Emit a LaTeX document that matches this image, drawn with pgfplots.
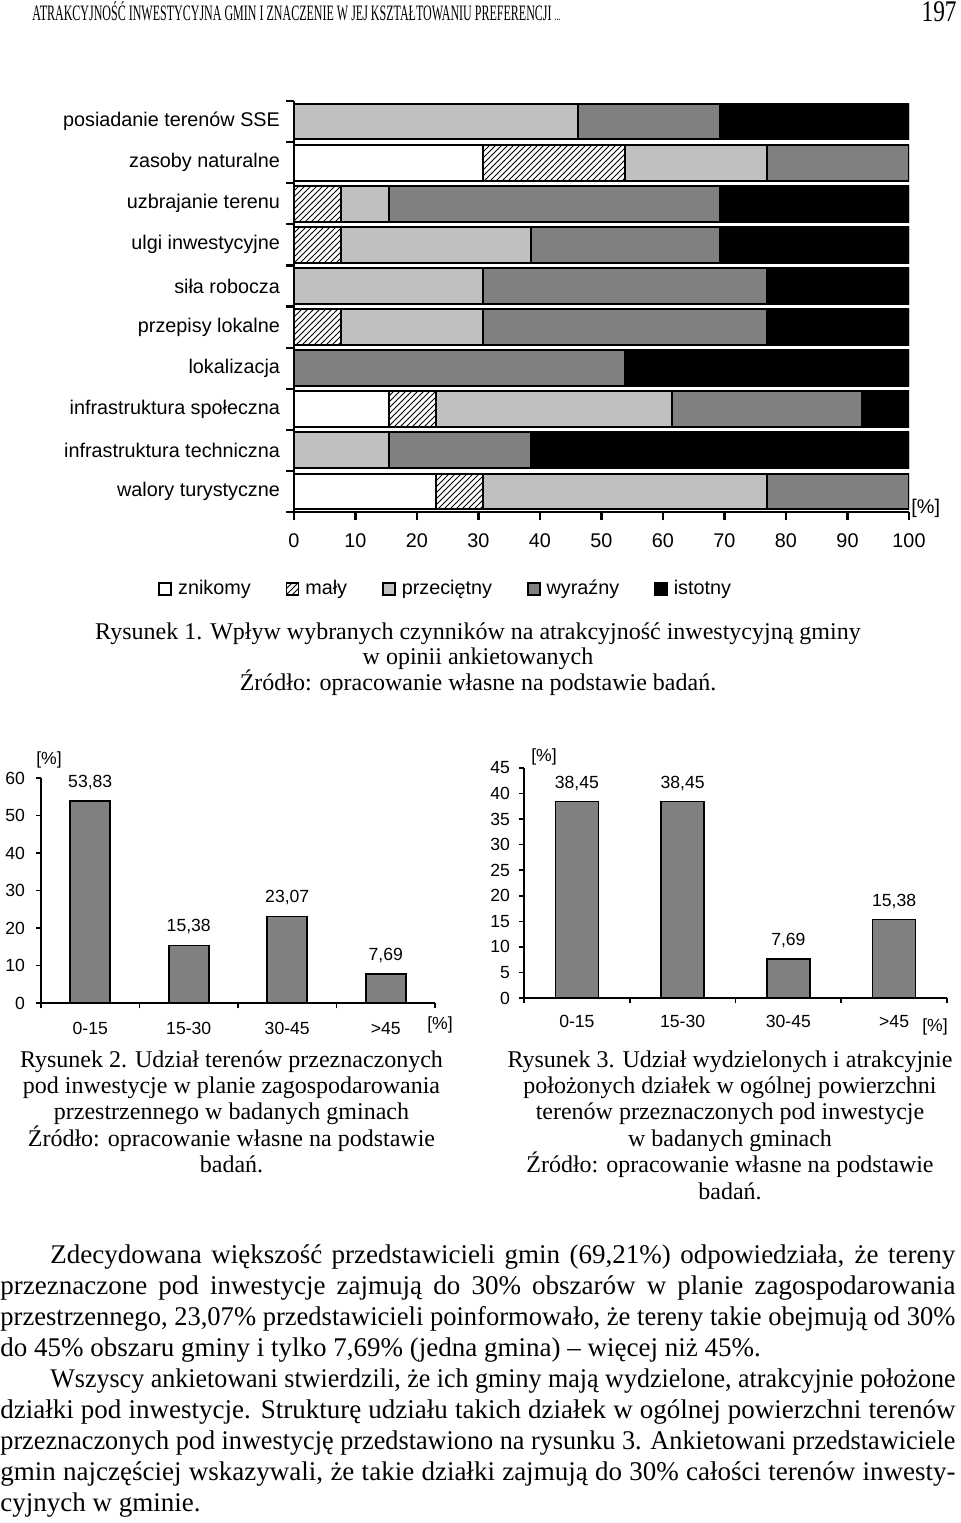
\documentclass[border=0pt]{standalone}
\usepackage{fontspec}
\setmainfont{Liberation Serif}
\newfontfamily\arial{Liberation Sans}
\usepackage{graphicx}
\usepackage{pgfplots}
\pgfplotsset{compat=1.18}
\usetikzlibrary{patterns}
\definecolor{lg}{HTML}{C0C0C0}
\definecolor{dg}{HTML}{808080}
\newsavebox\jbox
\newcommand\justline[2]{\sbox\jbox{#2}\ifdim\wd\jbox>#1\relax\resizebox{#1}{\height}{\usebox\jbox}\else\makebox[#1][s]{#2}\fi}
\newcommand\bodyfont{\fontsize{13.5}{15.5}\selectfont}
\newcommand\capfont{\fontsize{12}{13}\selectfont}
\newcommand\chfont{\arial\fontsize{9.9}{11}\selectfont}
\newcommand\smfont{\arial\fontsize{8.8}{10}\selectfont}
\begin{document}
\begin{tikzpicture}
\path[use as bounding box] (0pt,0pt) rectangle (480pt,-761.5pt);
% header
\node[anchor=base west, inner sep=0pt] at (16pt,-10.2pt) {\resizebox{264pt}{\height}{\fontsize{11}{13}\selectfont ATRAKCYJNOŚĆ INWESTYCYJNA GMIN I ZNACZENIE W JEJ KSZTAŁTOWANIU PREFERENCJI {\fontsize{7}{8}\selectfont ...}}};
\node[anchor=base east, inner sep=0pt] at (478.5pt,-10.5pt) {\resizebox{17.5pt}{\height}{\fontsize{15}{17}\selectfont 197}};

% ---------- Figure 1 ----------
\begin{axis}[
 at={(147pt,-256pt)}, anchor=south west, scale only axis,
 width=307.5pt, height=205.5pt,
 xbar stacked, bar width=17.9pt,
 xmin=0, xmax=100, ymin=0.5, ymax=10.5, y dir=reverse,
 axis x line*=bottom, axis y line*=left,
 axis line style={line width=1.1pt},
 tick style={black, line width=1.1pt},
 tick align=outside, major tick length=4pt,
 xtick={0,10,...,100},
 ytick={0.5,1.5,...,10.5}, yticklabels={},
 extra y ticks={1,2,...,10},
 extra y tick labels={posiadanie terenów SSE, zasoby naturalne, uzbrajanie terenu, ulgi inwestycyjne, siła robocza, przepisy lokalne, lokalizacja, infrastruktura społeczna, infrastruktura techniczna, walory turystyczne},
 extra y tick style={major tick length=0pt},
 yticklabel style={xshift=-3.5pt},
 xticklabel style={yshift=-3.5pt},
 tick label style={font=\chfont},
 /pgf/number format/assume math mode=true,
 legend style={at={(-0.231,-0.187)}, anchor=west, draw=none, fill=none,
   legend columns=5, font=\chfont,
   /tikz/every odd column/.append style={column sep=1pt},
   /tikz/every even column/.append style={column sep=15.4pt}},
 legend image code/.code={\draw[#1, line width=0.9pt] (0pt,-3pt) rectangle (6pt,3pt);},
]
\addplot[fill=white, draw=black, line width=1pt] coordinates {(0,1) (30.77,2) (0,3) (0,4) (0,5) (0,6) (0,7) (15.38,8) (0,9) (23.08,10)};
\addplot[pattern=north east lines, draw=black, line width=1pt] coordinates {(0,1) (23.08,2) (7.69,3) (7.69,4) (0,5) (7.69,6) (0,7) (7.69,8) (0,9) (7.69,10)};
\addplot[fill=lg, draw=black, line width=1pt] coordinates {(46.15,1) (23.08,2) (7.69,3) (30.77,4) (30.77,5) (23.08,6) (0,7) (38.46,8) (15.38,9) (46.15,10)};
\addplot[fill=dg, draw=black, line width=1pt] coordinates {(23.08,1) (23.08,2) (53.85,3) (30.77,4) (46.15,5) (46.15,6) (53.85,7) (30.77,8) (23.08,9) (23.08,10)};
\addplot[fill=black, draw=black, line width=1pt] coordinates {(30.77,1) (0,2) (30.77,3) (30.77,4) (23.08,5) (23.08,6) (46.15,7) (7.69,8) (61.54,9) (0,10)};
\legend{znikomy, mały, przeciętny, wyraźny, istotny}
\end{axis}
\node[anchor=west, inner sep=0pt, font=\chfont] at (455.5pt,-254pt) {[\%]};

\node[anchor=base, inner sep=0pt] at (239pt,-319.5pt) {\capfont Rysunek 1. Wpływ wybranych czynników na atrakcyjność inwestycyjną gminy};
\node[anchor=base, inner sep=0pt] at (239pt,-332pt) {\capfont w opinii ankietowanych};
\node[anchor=base, inner sep=0pt] at (239pt,-345pt) {\capfont Źródło: opracowanie własne na podstawie badań.};

% ---------- Figure 2 ----------
\begin{axis}[
 at={(20.5pt,-501.5pt)}, anchor=south west, scale only axis,
 width=197pt, height=112.5pt,
 ybar, bar width=20pt,
 xmin=-0.5, xmax=3.5, ymin=0, ymax=60,
 axis x line*=bottom, axis y line*=left,
 axis line style={line width=0.8pt}, tick style={black, line width=0.8pt},
 tick align=outside, major tick length=2.5pt,
 ytick={0,10,...,60},
 xtick={-0.5,0.5,...,3.5}, xticklabels={},
 extra x ticks={0,1,2,3}, extra x tick labels={0-15,15-30,30-45,>45},
 extra x tick style={major tick length=0pt},
 xticklabel style={yshift=-6pt},
 yticklabel style={xshift=-2pt},
 tick label style={font=\smfont},
 /pgf/number format/assume math mode=true,
 nodes near coords={\pgfmathprintnumber[fixed,fixed zerofill,precision=2,use comma,assume math mode=true]{\pgfplotspointmeta}},
 nodes near coords style={font=\smfont, anchor=south, inner sep=0pt, yshift=5.5pt},
]
\addplot[fill=dg, draw=black, line width=0.8pt] coordinates {(0,53.83) (1,15.38) (2,23.07) (3,7.69)};
\end{axis}
\node[font=\smfont, inner sep=0pt] at (24.5pt,-380pt) {[\%]};
\node[font=\smfont, inner sep=0pt] at (220pt,-512.5pt) {[\%]};

\node[anchor=base, inner sep=0pt] at (115.75pt,-533.5pt) {\capfont Rysunek 2. Udział terenów przeznaczonych};
\node[anchor=base, inner sep=0pt] at (115.75pt,-546.7pt) {\capfont pod inwestycje w planie zagospodarowania};
\node[anchor=base, inner sep=0pt] at (115.75pt,-559.9pt) {\capfont przestrzennego w badanych gminach};
\node[anchor=base, inner sep=0pt] at (115.75pt,-573.1pt) {\capfont Źródło: opracowanie własne na podstawie};
\node[anchor=base, inner sep=0pt] at (115.75pt,-586.3pt) {\capfont badań.};

% ---------- Figure 3 ----------
\begin{axis}[
 at={(262pt,-499pt)}, anchor=south west, scale only axis,
 width=211.5pt, height=115pt,
 ybar, bar width=21.5pt,
 xmin=-0.5, xmax=3.5, ymin=0, ymax=45,
 axis x line*=bottom, axis y line*=left,
 axis line style={line width=0.8pt}, tick style={black, line width=0.8pt},
 tick align=outside, major tick length=2.5pt,
 ytick={0,5,...,45},
 xtick={-0.5,0.5,...,3.5}, xticklabels={},
 extra x ticks={0,1,2,3}, extra x tick labels={0-15,15-30,30-45,>45},
 extra x tick style={major tick length=0pt},
 xticklabel style={yshift=-5pt},
 yticklabel style={xshift=-1pt},
 tick label style={font=\smfont},
 /pgf/number format/assume math mode=true,
 nodes near coords={\pgfmathprintnumber[fixed,fixed zerofill,precision=2,use comma,assume math mode=true]{\pgfplotspointmeta}},
 nodes near coords style={font=\smfont, anchor=south, inner sep=0pt, yshift=5pt},
]
\addplot[fill=dg, draw=black, line width=0.8pt] coordinates {(0,38.45) (1,38.45) (2,7.69) (3,15.38)};
\end{axis}
\node[font=\smfont, inner sep=0pt] at (272pt,-378.5pt) {[\%]};
\node[font=\smfont, inner sep=0pt] at (467.5pt,-513.5pt) {[\%]};

\node[anchor=base, inner sep=0pt] at (365pt,-533.5pt) {\capfont Rysunek 3. Udział wydzielonych i atrakcyjnie};
\node[anchor=base, inner sep=0pt] at (365pt,-546.7pt) {\capfont położonych działek w ogólnej powierzchni};
\node[anchor=base, inner sep=0pt] at (365pt,-559.9pt) {\capfont terenów przeznaczonych pod inwestycje};
\node[anchor=base, inner sep=0pt] at (365pt,-573.1pt) {\capfont w badanych gminach};
\node[anchor=base, inner sep=0pt] at (365pt,-586.3pt) {\capfont Źródło: opracowanie własne na podstawie};
\node[anchor=base, inner sep=0pt] at (365pt,-599.5pt) {\capfont badań.};

% ---------- body text ----------
\node[anchor=base west, inner sep=0pt] at (25pt,-631.5pt) {\bodyfont\justline{452.5pt}{Zdecydowana większość przedstawicieli gmin (69,21\%) odpowiedziała, że tereny}};
\node[anchor=base west, inner sep=0pt] at (0pt,-647.05pt) {\bodyfont\justline{477.5pt}{przeznaczone pod inwestycje zajmują do 30\% obszarów w planie zagospodarowania}};
\node[anchor=base west, inner sep=0pt] at (0pt,-662.6pt) {\bodyfont\justline{477.5pt}{przestrzennego, 23,07\% przedstawicieli poinformowało, że tereny takie obejmują od 30\%}};
\node[anchor=base west, inner sep=0pt] at (0pt,-678.15pt) {\bodyfont do 45\% obszaru gminy i tylko 7,69\% (jedna gmina) – więcej niż 45\%.};
\node[anchor=base west, inner sep=0pt] at (25pt,-693.7pt) {\bodyfont\justline{452.5pt}{Wszyscy ankietowani stwierdzili, że ich gminy mają wydzielone, atrakcyjnie położone}};
\node[anchor=base west, inner sep=0pt] at (0pt,-709.25pt) {\bodyfont\justline{477.5pt}{działki pod inwestycje. Strukturę udziału takich działek w ogólnej powierzchni terenów}};
\node[anchor=base west, inner sep=0pt] at (0pt,-724.8pt) {\bodyfont\justline{477.5pt}{przeznaczonych pod inwestycję przedstawiono na rysunku 3. Ankietowani przedstawiciele}};
\node[anchor=base west, inner sep=0pt] at (0pt,-740.35pt) {\bodyfont\justline{477.5pt}{gmin najczęściej wskazywali, że takie działki zajmują do 30\% całości terenów inwesty-}};
\node[anchor=base west, inner sep=0pt] at (0pt,-755.9pt) {\bodyfont cyjnych w gminie.};
\end{tikzpicture}
\end{document}
